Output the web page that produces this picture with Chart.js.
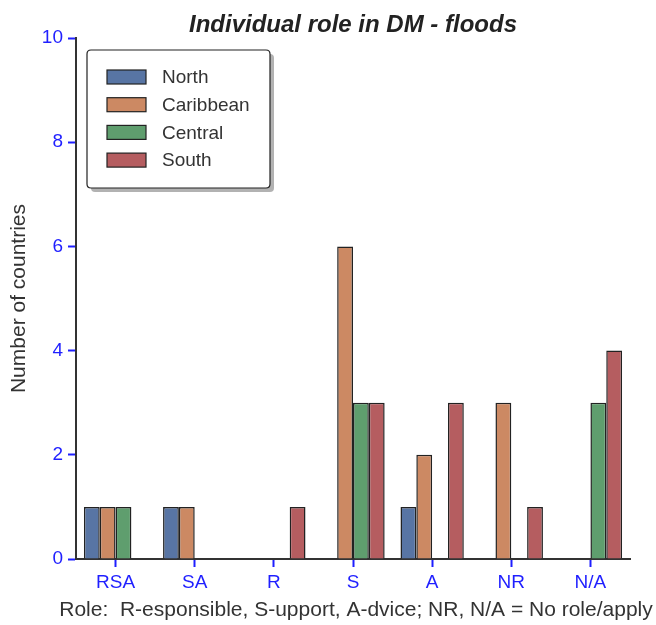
<!DOCTYPE html>
<html>
<head>
<meta charset="utf-8">
<script src="https://cdn.jsdelivr.net/npm/chart.js@4"></script>
<style>
  body { margin: 0; background: #fff; }
  #wrap { width: 656px; height: 625px; }
</style>
</head>
<body>
<div id="wrap"><canvas id="roleChart" width="656" height="625"></canvas></div>
<script>
const roles = ['RSA', 'SA', 'R', 'S', 'A', 'NR', 'N/A'];
const north = [1, 1, 0, 0, 1, 0, 0];
const caribbean = [1, 1, 0, 6, 2, 3, 0];
const central = [1, 0, 0, 3, 0, 0, 3];
const south = [0, 0, 1, 3, 3, 1, 4];
const yTicks = [0, 2, 4, 6, 8, 10];
const chartTitle = 'Individual role in DM - floods';
const xTitle = 'Role:  R-esponsible, S-upport, A-dvice; NR, N/A = No role/apply';

const font = "'Liberation Sans', Arial, sans-serif";

// title and x label centred over the plot area; the x label is wider than
// the plot so Chart.js would squeeze it
const plotTexts = {
    id: 'plotTexts',
    afterDraw(chart) {
        const ctx = chart.ctx;
        const area = chart.chartArea;
        const cx = (area.left + area.right) / 2;
        ctx.save();
        ctx.textAlign = 'center';
        ctx.font = 'italic bold 24px ' + font;
        ctx.fillStyle = '#222';
        ctx.textBaseline = 'alphabetic';
        ctx.fillText(chartTitle, cx, 32);
        ctx.font = '21px ' + font;
        ctx.fillStyle = '#333';
        ctx.textBaseline = 'middle';
        ctx.fillText(xTitle, cx + 3, 610);
        ctx.restore();
    }
};

// legend box with drop shadow, like the matplotlib one
const boxLegend = {
    id: 'boxLegend',
    afterDraw(chart) {
        const ctx = chart.ctx;
        const x = 87, y = 50, w = 183, h = 138;
        ctx.save();
        ctx.fillStyle = 'rgba(0,0,0,0.3)';
        roundRect(ctx, x + 4, y + 4, w, h, 4);
        ctx.fill();
        ctx.fillStyle = '#fff';
        ctx.strokeStyle = '#222';
        ctx.lineWidth = 1.2;
        roundRect(ctx, x, y, w, h, 4);
        ctx.fill();
        ctx.stroke();
        ctx.font = '19px ' + font;
        ctx.textBaseline = 'middle';
        chart.data.datasets.forEach((ds, i) => {
            const ry = 77 + i * 27.7;
            ctx.fillStyle = ds.backgroundColor;
            ctx.fillRect(107, ry - 7, 39, 14);
            ctx.strokeStyle = '#222';
            ctx.lineWidth = 1.2;
            ctx.strokeRect(107, ry - 7, 39, 14);
            ctx.fillStyle = '#333';
            ctx.fillText(ds.label, 162, ry + 1);
        });
        ctx.restore();
    }
};

function roundRect(ctx, x, y, w, h, r) {
    ctx.beginPath();
    ctx.moveTo(x + r, y);
    ctx.lineTo(x + w - r, y);
    ctx.quadraticCurveTo(x + w, y, x + w, y + r);
    ctx.lineTo(x + w, y + h - r);
    ctx.quadraticCurveTo(x + w, y + h, x + w - r, y + h);
    ctx.lineTo(x + r, y + h);
    ctx.quadraticCurveTo(x, y + h, x, y + h - r);
    ctx.lineTo(x, y + r);
    ctx.quadraticCurveTo(x, y, x + r, y);
    ctx.closePath();
}

function bar(label, data, color) {
    return {
        label: label,
        data: data,
        backgroundColor: color,
        borderColor: '#222',
        borderWidth: 1.5,
        borderSkipped: 'bottom',
        categoryPercentage: 0.8,
        barPercentage: 1.0
    };
}

new Chart(document.getElementById('roleChart'), {
    type: 'bar',
    data: {
        labels: roles,
        datasets: [
            bar('North', north, '#5875a4'),
            bar('Caribbean', caribbean, '#cc8963'),
            bar('Central', central, '#5f9e6e'),
            bar('South', south, '#b55d60')
        ]
    },
    options: {
        responsive: false,
        animation: false,
        layout: { padding: { left: 0, right: 26, top: 38, bottom: 0 } },
        plugins: {
            legend: { display: false },
            tooltip: { enabled: false },
            title: { display: false }
        },
        scales: {
            x: {
                grid: { display: true, offset: false, drawOnChartArea: false, drawTicks: true, tickLength: 8, tickColor: '#1f1fff', tickWidth: 2 },
                border: { display: true, color: '#333', width: 2 },
                ticks: { color: '#1f1fff', font: { family: font, size: 19 }, padding: 4 },
                afterFit(scale) { scale.height = 66; }
            },
            y: {
                min: 0,
                max: 10,
                afterBuildTicks(scale) { scale.ticks = yTicks.map(v => ({ value: v })); },
                grid: { display: true, drawOnChartArea: false, drawTicks: true, tickLength: 8, tickColor: '#1f1fff', tickWidth: 2 },
                border: { display: true, color: '#333', width: 2 },
                ticks: { color: '#1f1fff', font: { family: font, size: 19 }, padding: 5 },
                title: {
                    display: true,
                    text: 'Number of countries',
                    color: '#333',
                    font: { family: font, size: 21 },
                    padding: { top: 7, bottom: 0 }
                },
                afterFit(scale) { scale.width = 76; }
            }
        }
    },
    plugins: [boxLegend, plotTexts]
});
</script>
</body>
</html>
